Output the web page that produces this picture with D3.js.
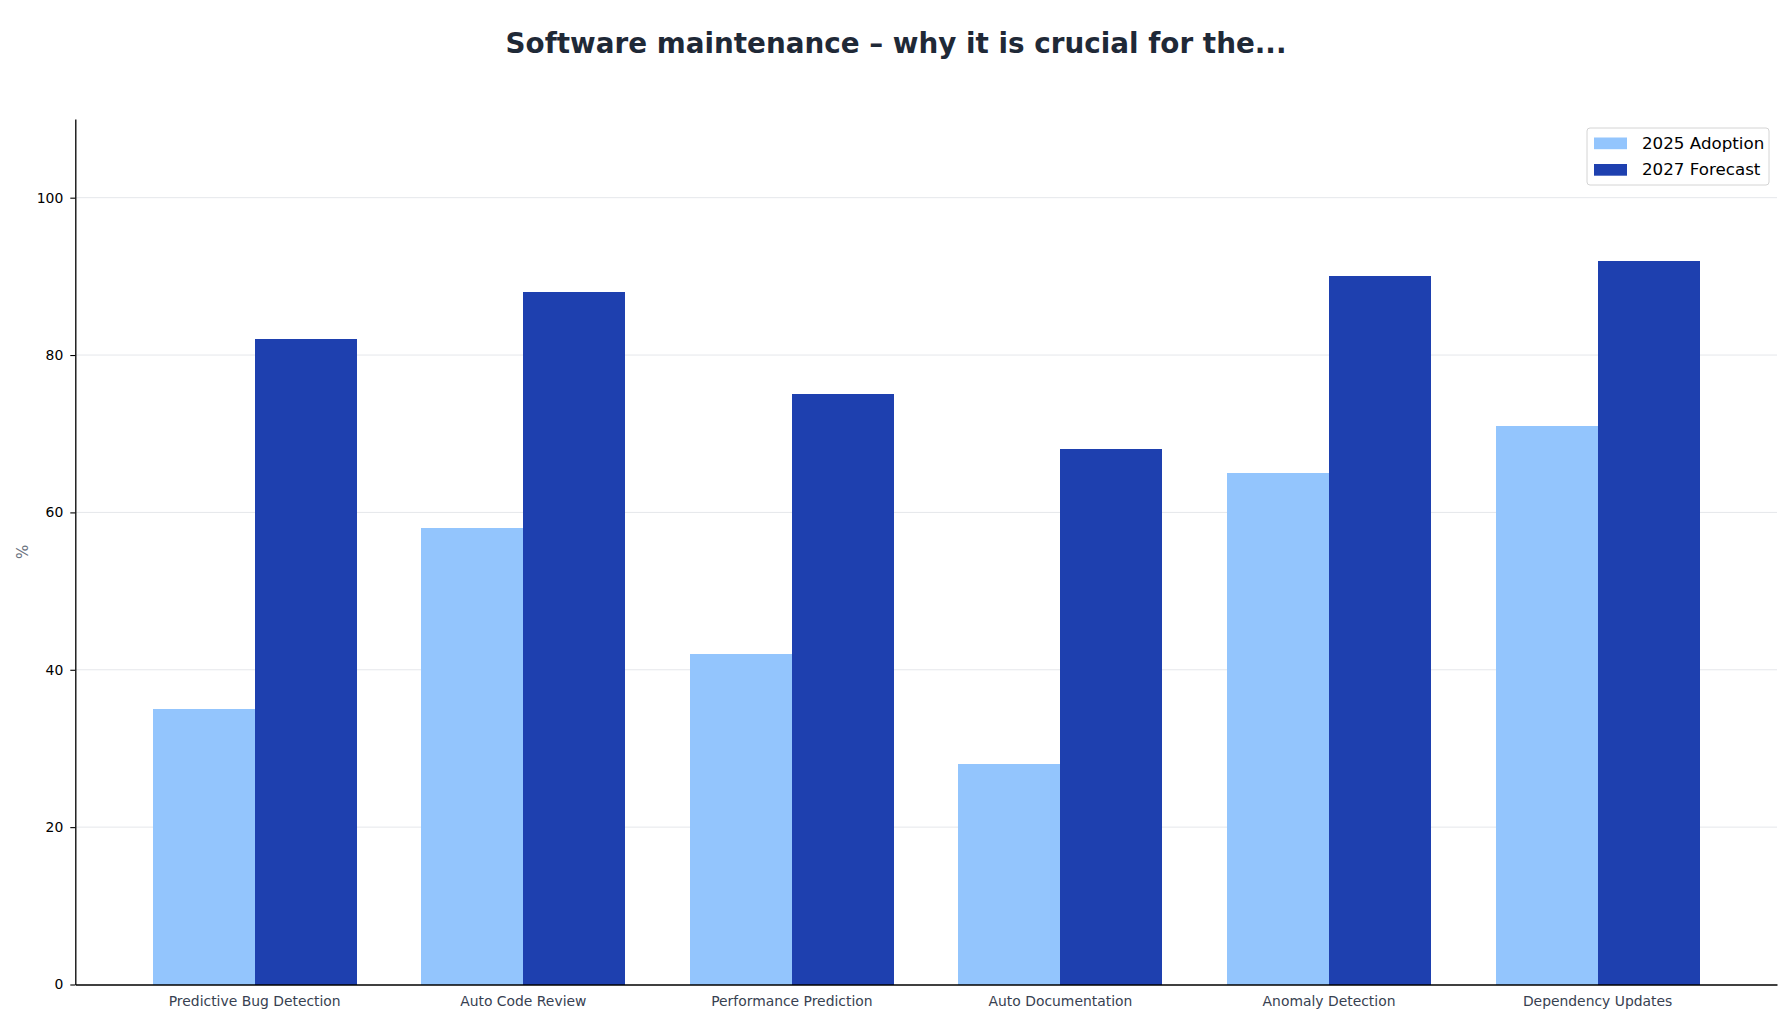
<!DOCTYPE html>
<html>
<head>
<meta charset="utf-8">
<script src="https://cdn.jsdelivr.net/npm/d3@7"></script>
<style>
  html, body { margin: 0; padding: 0; background: #fff; }
  svg text { font-family: "DejaVu Sans", sans-serif; }
</style>
</head>
<body>
<div id="chart"></div>
<script>
// Data
const categories = ["Predictive Bug Detection", "Auto Code Review", "Performance Prediction",
                    "Auto Documentation", "Anomaly Detection", "Dependency Updates"];
const seriesNames = ["2025 Adoption", "2027 Forecast"];
const adoption2025 = [35, 58, 42, 28, 65, 71];
const forecast2027 = [82, 88, 75, 68, 90, 92];
const yTicks = [0, 20, 40, 60, 80, 100];
const colors = ["#93c5fd", "#1e40af"];

const width = 1792;
const height = 1024;
const margin = { top: 119, right: 15, bottom: 39.5, left: 75.3 };
const chartWidth = width - margin.left - margin.right;
const chartHeight = height - margin.top - margin.bottom;

const svg = d3.select("#chart")
    .append("svg")
    .attr("width", width)
    .attr("height", height);

// Title
svg.append("text")
    .attr("x", width / 2)
    .attr("y", 53)
    .attr("text-anchor", "middle")
    .style("font-size", "27.8px")
    .style("font-weight", "bold")
    .style("fill", "#1f2937")
    .text("Software maintenance \u2013 why it is crucial for the...");

const chart = svg.append("g")
    .attr("transform", `translate(${margin.left}, ${margin.top})`);

// Scales
const x0 = d3.scaleBand()
    .domain(categories)
    .range([0, chartWidth])
    .paddingInner(0.24)
    .paddingOuter(0.288);

const x1 = d3.scaleBand()
    .domain(seriesNames)
    .range([0, x0.bandwidth()])
    .padding(0);

const y = d3.scaleLinear()
    .domain([0, 110])
    .range([chartHeight, 0]);

const color = d3.scaleOrdinal()
    .domain(seriesNames)
    .range(colors);

// Grid
chart.append("g")
    .selectAll("line")
    .data(yTicks.filter(d => d > 0))
    .enter()
    .append("line")
    .attr("x1", 0)
    .attr("x2", chartWidth)
    .attr("y1", d => y(d))
    .attr("y2", d => y(d))
    .attr("stroke", "#e5e7eb")
    .attr("stroke-width", 1);

// Bars
const rows = categories.map((c, i) => ({
    category: c,
    values: [
        { key: seriesNames[0], value: adoption2025[i] },
        { key: seriesNames[1], value: forecast2027[i] }
    ]
}));

chart.selectAll("g.group")
    .data(rows)
    .enter()
    .append("g")
    .attr("class", "group")
    .attr("transform", d => `translate(${x0(d.category)}, 0)`)
    .selectAll("rect")
    .data(d => d.values)
    .enter()
    .append("rect")
    .attr("x", d => x1(d.key))
    .attr("width", x1.bandwidth())
    .attr("y", d => y(d.value))
    .attr("height", d => chartHeight - y(d.value))
    .attr("fill", d => color(d.key))
    .attr("shape-rendering", "crispEdges");

// Axes
const yAxis = d3.axisLeft(y).tickValues(yTicks).tickSize(5).tickPadding(7).tickSizeOuter(0);
const gy = chart.append("g").call(yAxis);
gy.select(".domain").attr("stroke", "#000").attr("stroke-width", 1.3);
gy.selectAll(".tick line").attr("stroke", "#000").attr("stroke-width", 1.1);
gy.selectAll("text").style("font-size", "13.9px").style("fill", "#000");

const xAxis = d3.axisBottom(x0).tickSize(0).tickPadding(12).tickSizeOuter(0);
const gx = chart.append("g")
    .attr("transform", `translate(0, ${chartHeight})`)
    .call(xAxis);
gx.select(".domain").attr("stroke", "#000").attr("stroke-width", 1.3);
gx.selectAll("text").style("font-size", "13.9px").style("fill", "#374151");

// Y label
svg.append("text")
    .attr("transform", `translate(28, ${margin.top + chartHeight / 2}) rotate(-90)`)
    .attr("text-anchor", "middle")
    .style("font-size", "15px")
    .style("fill", "#6b7280")
    .text("%");

// Legend
const legend = svg.append("g")
    .attr("transform", "translate(1587, 128)");

legend.append("rect")
    .attr("width", 182)
    .attr("height", 57)
    .attr("rx", 3)
    .attr("fill", "#fff")
    .attr("stroke", "#d4d4d4")
    .attr("stroke-width", 1);

const items = legend.selectAll("g.item")
    .data(seriesNames)
    .enter()
    .append("g")
    .attr("class", "item")
    .attr("transform", (d, i) => `translate(7, ${9.5 + i * 26.5})`);

items.append("rect")
    .attr("width", 33)
    .attr("height", 11.7)
    .attr("fill", d => color(d));

items.append("text")
    .attr("x", 48)
    .attr("y", 11)
    .style("font-size", "16.7px")
    .style("fill", "#000")
    .text(d => d);
</script>
</body>
</html>
